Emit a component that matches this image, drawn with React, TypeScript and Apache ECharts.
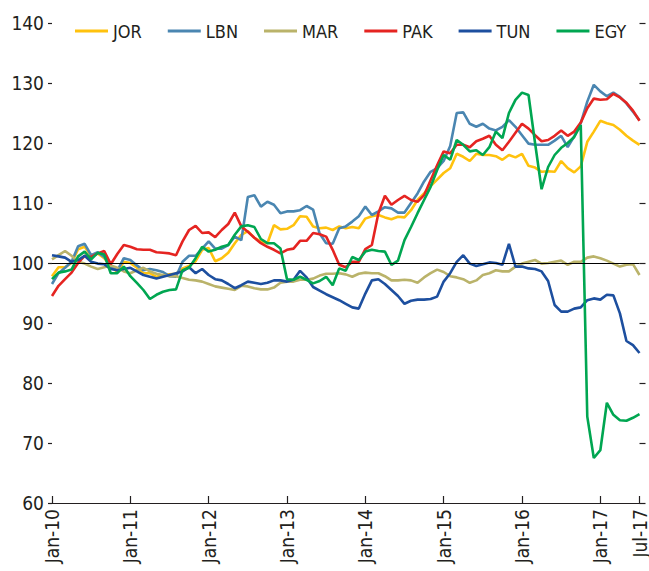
import React, { useEffect, useRef } from "react";
import * as echarts from "echarts";

const monthNames = ["Jan","Feb","Mar","Apr","May","Jun","Jul","Aug","Sep","Oct","Nov","Dec"];
const yearsShort = ["10","11","12","13","14","15","16","17"];
const categories: string[] = [];
yearsShort.forEach((y) => monthNames.forEach((m) => categories.push(`${m}-${y}`)));
categories.length = 91; // Jan-10 .. Jul-17

const seriesNames = ["JOR", "LBN", "MAR", "PAK", "TUN", "EGY"];
const seriesColors = ["#FFC20E", "#4A86B1", "#BAB36A", "#E52421", "#1D4F9F", "#00A651"];

const JOR = [
  97.8, 99.3, 99.3, 100, 102.3, 102.7, 101.2, 101.6, 100.8, 99.5,
  98.5, 100.2, 100, 99.2, 98.3, 98.3, 97.7, 98, 98.1, 98.2,
  99.1, 99.5, 100.3, 102.2, 102.5, 100.3, 100.8, 101.7, 103.3, 104.7,
  105.3, 104.2, 103.6, 103.3, 106.3, 105.6, 105.7, 106.3, 107.8, 107.7,
  106.1, 105.8, 105.9, 105.5, 106.1, 105.8, 106, 105.8, 107.4, 107.8,
  108, 107.6, 107.3, 107.7, 107.6, 108.8, 110.5, 111.6, 112.8, 113.9,
  115, 115.8, 118.2, 117.7, 117, 118.2, 118, 118, 117.8, 117.2,
  118, 117.6, 118.2, 116.2, 115.9, 115.2, 115.3, 115.2, 117, 115.8,
  115.1, 116.1, 120.2, 121.9, 123.7, 123.3, 123, 122.2, 121.2, 120.4,
  119.7,
];
const LBN = [
  96.5, 98.3, 99.2, 100.2, 102.8, 103.2, 101.3, 101.8, 101, 99.5,
  98.7, 100.8, 100.5, 99.6, 98.8, 99, 98.8, 98.5, 97.8, 97.7,
  100.2, 101.2, 101.2, 102.4, 103.6, 102.4, 102.4, 103, 104.4, 103.8,
  111, 111.3, 109.4, 110.2, 109.7, 108.3, 108.6, 108.6, 108.8, 109.5,
  108.9, 104.9, 103.3, 103.2, 105.8, 106.1, 106.9, 107.8, 109.4, 108,
  108.6, 109.3, 109.1, 108.4, 108.4, 110, 111.6, 113.6, 115.2, 115.8,
  117, 119.5, 125, 125.1, 123.2, 122.7, 123.2, 122.4, 122.1, 122.7,
  123.8, 122.7, 121.3, 119.9, 119.7, 119.7, 119.7, 120.4, 121.2, 119.3,
  121.1, 123.3, 126.9, 129.7, 128.6, 127.8, 128.4, 127.7, 126.6, 125.2,
  123.8,
];
const MAR = [
  100.6, 101.3, 102, 101.2, 100.2, 99.9, 99.4, 99, 99.3, 99.6,
  99.2, 98.6, 98.3, 98.8, 99.2, 98.6, 98.2, 98, 97.8, 97.8,
  97.5, 97.2, 97.1, 96.9, 96.5, 96.1, 95.9, 95.7, 95.5, 96.2,
  96.1, 95.8, 95.6, 95.6, 95.9, 96.7, 96.9, 96.9, 97.2, 97.2,
  97.4, 97.9, 98.2, 98.2, 98.3, 98.1, 97.7, 98.2, 98.4, 98.3,
  98.3, 97.8, 97.1, 97.1, 97.2, 97.1, 96.7, 97.6, 98.3, 98.9,
  98.5, 97.8, 97.6, 97.3, 96.7, 97.1, 98, 98.3, 98.8, 98.6,
  98.6, 99.4, 99.9, 100.2, 100.5, 99.9, 100, 100.2, 100.4, 99.7,
  100.2, 100.2, 100.9, 101.1, 100.8, 100.4, 99.9, 99.4, 99.7, 99.8,
  98,
];
const PAK = [
  94.5, 96.2, 97.3, 98.4, 100, 101.2, 101, 101.6, 102, 99.8,
  101.5, 103, 102.7, 102.3, 102.2, 102.2, 101.8, 101.7, 101.6, 101.3,
  103.6, 105.5, 106.2, 105, 105.1, 104.3, 105.5, 106.5, 108.4, 106.1,
  105.2, 104.2, 103.3, 102.7, 102.2, 101.6, 102.2, 102.4, 103.7, 103.7,
  105, 104.8, 104.4, 102.2, 99.7, 99.3, 100.2, 100.2, 102.3, 103,
  108.3, 111.2, 109.7, 110.5, 111.2, 110.5, 110.2, 111.3, 113.8, 116.3,
  118.6, 118.3, 119.7, 119.7, 119.3, 120.3, 120.7, 121.2, 119.7, 118.8,
  120.2, 121.7, 123.2, 122.4, 121.3, 120.3, 120.5, 121.2, 122.1, 121.2,
  121.9, 123.4, 125.8, 127.4, 127.2, 127.3, 128.2, 127.6, 126.7, 125.4,
  123.7,
];
const TUN = [
  101.3, 101.1, 100.9, 100.2, 100.5, 101.2, 100.2, 99.9, 99.8, 99,
  98.8, 99, 99.2, 98.6, 98, 97.7, 97.4, 97.7, 98, 98.3,
  98.6, 99.3, 98.3, 99, 98, 97.3, 97.1, 96.5, 95.8, 96.3,
  96.9, 96.7, 96.5, 96.7, 97.1, 97.1, 96.9, 97.2, 98.7, 97.6,
  96, 95.4, 94.8, 94.3, 93.8, 93.2, 92.6, 92.4, 94.9, 97.1,
  97.3, 96.5, 95.5, 94.5, 93.2, 93.7, 93.9, 93.9, 94, 94.4,
  96.9, 98.3, 100.2, 101.3, 99.9, 99.5, 99.8, 100.1, 100, 99.7,
  103.2, 99.4, 99.4, 99.1, 99, 98.6, 97, 93, 91.9, 91.9,
  92.4, 92.6, 93.8, 94.1, 93.9, 94.7, 94.6, 91.6, 87, 86.3,
  85,
];
const EGY = [
  97.3, 98.4, 98.6, 98.9, 101.1, 101.9, 100.6, 101.7, 101.4, 98.3,
  98.3, 99.4, 97.8, 96.7, 95.5, 94, 94.7, 95.2, 95.5, 95.6,
  98.8, 99.2, 100.8, 102.7, 101.9, 102.2, 102.7, 103, 104.7, 106.1,
  106.3, 106, 104, 103.3, 103.3, 102.4, 97.3, 97.2, 97.7, 97.2,
  96.6, 97, 97.7, 96.3, 99.1, 98.7, 101, 100.5, 101.9, 102.2,
  102, 101.9, 99.7, 100.4, 103.8, 106, 108.3, 110.5, 112.7, 115.5,
  118, 117.2, 120.5, 119.7, 118.6, 118.8, 118, 119.3, 121.9, 120.8,
  125, 127.2, 128.4, 128, 120, 112.3, 116, 118, 119.2, 120,
  121, 123, 74.4, 67.5, 68.8, 76.7, 74.7, 73.8, 73.7, 74.2,
  74.8,
];
const seriesData = [JOR, LBN, MAR, PAK, TUN, EGY];

const yMin = 60;
const yMax = 140;
const yStep = 10;
const referenceLevel = 100;

const FONT = "'Liberation Sans Narrow', 'DejaVu Sans Condensed', 'Roboto Condensed', 'Liberation Sans', sans-serif";
const INK = "#231F20";

const showIdx = (i: number) => i % 12 === 0 || i === categories.length - 1;

export default function App() {
  const ref = useRef<HTMLDivElement>(null);
  useEffect(() => {
    if (!ref.current) return;
    const chart = echarts.init(ref.current, undefined, { renderer: "svg" });
    chart.setOption({
      animation: false,
      backgroundColor: "#ffffff",
      textStyle: { fontFamily: FONT },
      grid: { left: 52, right: 8, top: 23, bottom: 68, containLabel: false },
      legend: {
        left: 70,
        top: 17,
        icon: "rect",
        itemWidth: 33,
        itemHeight: 3,
        itemGap: 26,
        data: seriesNames,
        textStyle: { fontFamily: FONT, fontSize: 18, color: INK },
      },
      xAxis: {
        type: "category",
        boundaryGap: false,
        data: categories,
        axisLine: { show: true, lineStyle: { color: INK, width: 1.2 } },
        axisTick: { show: true, inside: true, length: 7, interval: (i: number) => showIdx(i), lineStyle: { color: INK, width: 1.2 } },
        axisLabel: {
          interval: (i: number) => showIdx(i),
          rotate: 90,
          margin: 6,
          fontFamily: FONT,
          fontSize: 19,
          color: INK,
        },
        splitLine: { show: false },
      },
      yAxis: [
        {
          type: "value",
          min: yMin,
          max: yMax,
          interval: yStep,
          axisLine: { show: false },
          axisTick: { show: true, length: 4, lineStyle: { color: INK, width: 1.2 } },
          axisLabel: { margin: 8, fontFamily: FONT, fontSize: 19, color: INK },
          splitLine: { show: false },
        },
        {
          type: "value",
          position: "right",
          min: yMin,
          max: yMax,
          interval: yStep,
          axisLine: { show: false },
          axisTick: { show: true, length: 6, lineStyle: { color: INK, width: 1.2 } },
          axisLabel: { show: false },
          splitLine: { show: false },
        },
      ],
      series: seriesNames.map((name, k) => ({
        name,
        type: "line",
        data: seriesData[k],
        yAxisIndex: 0,
        showSymbol: false,
        symbol: "none",
        color: seriesColors[k],
        lineStyle: { color: seriesColors[k], width: 2.6 },
        markLine:
          k === 0
            ? {
                silent: true,
                symbol: ["none", "none"],
                label: { show: false },
                lineStyle: { color: "#000000", width: 1.2, type: "solid" },
                data: [{ yAxis: referenceLevel }],
              }
            : undefined,
      })),
    });
    return () => chart.dispose();
  }, []);
  return <div ref={ref} style={{ position: "fixed", left: 0, top: 0, width: 649, height: 571 }} />;
}
